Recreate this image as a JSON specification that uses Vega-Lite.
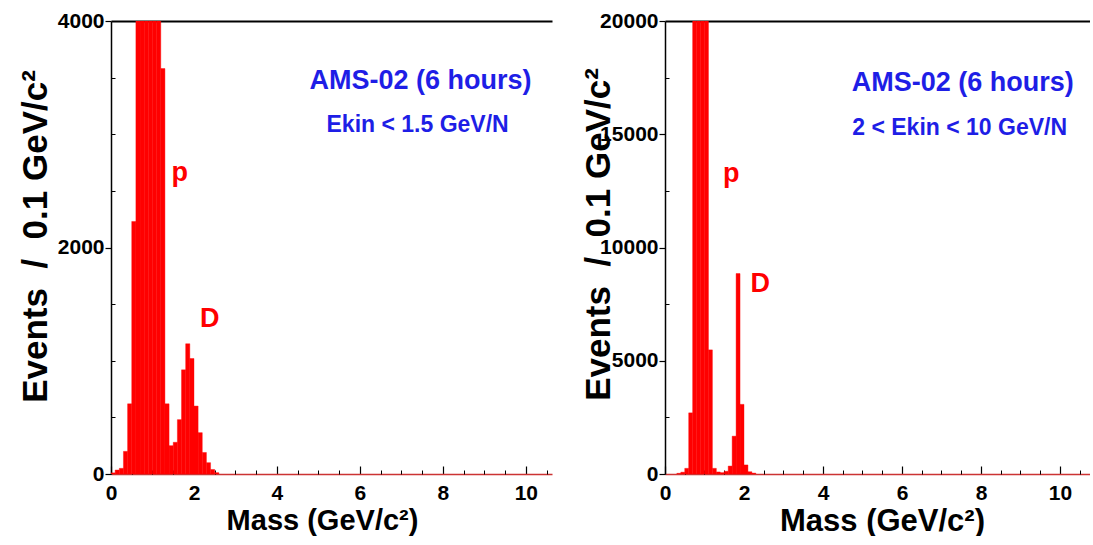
{
  "$schema": "https://vega.github.io/schema/vega-lite/v6.json",
  "background": "white",
  "padding": {"left": 18, "top": 10, "right": 0, "bottom": 0},
  "spacing": 113,
  "bounds": "flush",
  "config": {
    "view": {"stroke": null},
    "font": "Liberation Sans",
    "axis": {"labelFont": "Liberation Sans", "titleFont": "Liberation Sans", "labelFontWeight": "bold", "titleFontWeight": "bold", "labelColor": "black", "titleColor": "black", "domainColor": "black", "tickColor": "black", "grid": false, "format": "d"}
  },
  "datasets": {
    "lowE": [
      {"lo": 0.0, "hi": 0.1, "n": 10}, {"lo": 0.1, "hi": 0.2, "n": 35}, {"lo": 0.2, "hi": 0.3, "n": 50},
      {"lo": 0.3, "hi": 0.4, "n": 200}, {"lo": 0.4, "hi": 0.5, "n": 620}, {"lo": 0.5, "hi": 0.6, "n": 2230},
      {"lo": 0.6, "hi": 0.7, "n": 4900}, {"lo": 0.7, "hi": 0.8, "n": 6800}, {"lo": 0.8, "hi": 0.9, "n": 7600},
      {"lo": 0.9, "hi": 1.0, "n": 7400}, {"lo": 1.0, "hi": 1.1, "n": 6300}, {"lo": 1.1, "hi": 1.2, "n": 5000},
      {"lo": 1.2, "hi": 1.3, "n": 3580}, {"lo": 1.3, "hi": 1.4, "n": 620}, {"lo": 1.4, "hi": 1.5, "n": 250},
      {"lo": 1.5, "hi": 1.6, "n": 280}, {"lo": 1.6, "hi": 1.7, "n": 480}, {"lo": 1.7, "hi": 1.8, "n": 920},
      {"lo": 1.8, "hi": 1.9, "n": 1150}, {"lo": 1.9, "hi": 2.0, "n": 1020}, {"lo": 2.0, "hi": 2.1, "n": 600},
      {"lo": 2.1, "hi": 2.2, "n": 365}, {"lo": 2.2, "hi": 2.3, "n": 190}, {"lo": 2.3, "hi": 2.4, "n": 100},
      {"lo": 2.4, "hi": 2.5, "n": 40}, {"lo": 2.5, "hi": 2.6, "n": 12}
    ],
    "highE": [
      {"lo": 0.3, "hi": 0.4, "n": 30}, {"lo": 0.4, "hi": 0.5, "n": 80}, {"lo": 0.5, "hi": 0.6, "n": 250},
      {"lo": 0.6, "hi": 0.7, "n": 2700}, {"lo": 0.7, "hi": 0.8, "n": 26000}, {"lo": 0.8, "hi": 0.9, "n": 40000},
      {"lo": 0.9, "hi": 1.0, "n": 36000}, {"lo": 1.0, "hi": 1.1, "n": 21000}, {"lo": 1.1, "hi": 1.2, "n": 5480},
      {"lo": 1.2, "hi": 1.3, "n": 250}, {"lo": 1.3, "hi": 1.4, "n": 90}, {"lo": 1.4, "hi": 1.5, "n": 60},
      {"lo": 1.5, "hi": 1.6, "n": 120}, {"lo": 1.6, "hi": 1.7, "n": 350}, {"lo": 1.7, "hi": 1.8, "n": 1670},
      {"lo": 1.8, "hi": 1.9, "n": 8850}, {"lo": 1.9, "hi": 2.0, "n": 3075}, {"lo": 2.0, "hi": 2.1, "n": 400},
      {"lo": 2.1, "hi": 2.2, "n": 100}, {"lo": 2.2, "hi": 2.3, "n": 40}
    ]
  },
  "hconcat": [
    {
      "width": 441,
      "height": 453,
      "resolve": {"axis": {"x": "independent", "y": "independent"}},
      "layer": [
        {
          "data": {"name": "lowE"},
          "mark": {"type": "rect", "color": "#ff0000", "stroke": "#ff0000", "strokeWidth": 0.4, "clip": true},
          "encoding": {
            "x": {"field": "lo", "type": "quantitative", "scale": {"domain": [0, 10.63], "nice": false, "zero": false},
              "axis": {"orient": "bottom", "values": [0, 2, 4, 6, 8, 10], "tickSize": -8, "tickWidth": 1.2, "domainColor": "#cc3333", "domainWidth": 1.5, "labelFontSize": 21, "labelPadding": 16, "labelFlush": false, "title": "Mass (GeV/c²)", "titleFontSize": 29, "titlePadding": 3, "titleX": 211}},
            "x2": {"field": "hi"},
            "y": {"field": "n", "type": "quantitative", "scale": {"domain": [0, 4000], "nice": false},
              "axis": {"orient": "left", "values": [0, 2000, 4000], "tickSize": 6, "tickWidth": 1.2, "domainWidth": 1.5, "labelFontSize": 21, "labelPadding": 1, "labelFlush": false, "title": "Events \u00a0/\u00a0 0.1 GeV/c²", "titleFontSize": 35, "titlePadding": 4, "titleY": 215}},
            "y2": {"datum": 0}
          }
        },
        {
          "mark": {"type": "point", "opacity": 0},
          "encoding": {
            "x": {"datum": 0, "type": "quantitative", "axis": {"orient": "bottom", "values": [0.5, 1, 1.5, 2.5, 3, 3.5, 4.5, 5, 5.5, 6.5, 7, 7.5, 8.5, 9, 9.5, 10.5], "tickSize": -4, "labels": false, "domain": false, "title": null}},
            "y": {"datum": 0, "type": "quantitative", "axis": {"orient": "left", "values": [500, 1000, 1500, 2500, 3000, 3500], "tickSize": -4, "labels": false, "domain": false, "title": null}}
          }
        },
        {
          "mark": {"type": "point", "opacity": 0},
          "encoding": {
            "x": {"datum": 0, "type": "quantitative", "axis": {"orient": "top", "ticks": false, "labels": false, "domainWidth": 2, "title": null}},
            "y": {"datum": 0, "type": "quantitative", "axis": null}
          }
        },
        {
          "data": {"values": [{"label": "AMS-02 (6 hours)"}]},
          "mark": {"type": "text", "color": "#1e1ee6", "fontSize": 27, "fontWeight": "bold", "font": "Liberation Sans"},
          "encoding": {"text": {"field": "label"}, "x": {"datum": 7.46, "type": "quantitative", "axis": null}, "y": {"datum": 3470, "type": "quantitative", "axis": null}}
        },
        {
          "data": {"values": [{"label": "Ekin < 1.5 GeV/N"}]},
          "mark": {"type": "text", "color": "#1e1ee6", "fontSize": 23, "fontWeight": "bold", "font": "Liberation Sans"},
          "encoding": {"text": {"field": "label"}, "x": {"datum": 7.39, "type": "quantitative", "axis": null}, "y": {"datum": 3082, "type": "quantitative", "axis": null}}
        },
        {
          "data": {"values": [{"label": "p"}]},
          "mark": {"type": "text", "color": "#ff0000", "fontSize": 27, "fontWeight": "bold", "font": "Liberation Sans"},
          "encoding": {"text": {"field": "label"}, "x": {"datum": 1.66, "type": "quantitative", "axis": null}, "y": {"datum": 2660, "type": "quantitative", "axis": null}}
        },
        {
          "data": {"values": [{"label": "D"}]},
          "mark": {"type": "text", "color": "#ff0000", "fontSize": 27, "fontWeight": "bold", "font": "Liberation Sans"},
          "encoding": {"text": {"field": "label"}, "x": {"datum": 2.38, "type": "quantitative", "axis": null}, "y": {"datum": 1369, "type": "quantitative", "axis": null}}
        }
      ]
    },
    {
      "width": 425,
      "height": 453,
      "resolve": {"axis": {"x": "independent", "y": "independent"}},
      "layer": [
        {
          "data": {"name": "highE"},
          "mark": {"type": "rect", "color": "#ff0000", "stroke": "#ff0000", "strokeWidth": 0.4, "clip": true},
          "encoding": {
            "x": {"field": "lo", "type": "quantitative", "scale": {"domain": [0, 10.76], "nice": false, "zero": false},
              "axis": {"orient": "bottom", "values": [0, 2, 4, 6, 8, 10], "tickSize": -8, "tickWidth": 1.2, "domainColor": "#cc3333", "domainWidth": 1.5, "labelFontSize": 21, "labelPadding": 16, "labelFlush": false, "title": "Mass (GeV/c²)", "titleFontSize": 31, "titlePadding": 3, "titleX": 217}},
            "x2": {"field": "hi"},
            "y": {"field": "n", "type": "quantitative", "scale": {"domain": [0, 20000], "nice": false},
              "axis": {"orient": "left", "values": [0, 5000, 10000, 15000, 20000], "tickSize": 6, "tickWidth": 1.2, "domainWidth": 1.5, "labelFontSize": 21, "labelPadding": 1, "labelFlush": false, "title": "Events \u00a0/\u00a0 0.1 GeV/c²", "titleFontSize": 35, "titlePadding": -17, "titleY": 213}},
            "y2": {"datum": 0}
          }
        },
        {
          "mark": {"type": "point", "opacity": 0},
          "encoding": {
            "x": {"datum": 0, "type": "quantitative", "axis": {"orient": "bottom", "values": [0.5, 1, 1.5, 2.5, 3, 3.5, 4.5, 5, 5.5, 6.5, 7, 7.5, 8.5, 9, 9.5, 10.5], "tickSize": -4, "labels": false, "domain": false, "title": null}},
            "y": {"datum": 0, "type": "quantitative", "axis": {"orient": "left", "values": [2500, 7500, 12500, 17500], "tickSize": -4, "labels": false, "domain": false, "title": null}}
          }
        },
        {
          "mark": {"type": "point", "opacity": 0},
          "encoding": {
            "x": {"datum": 0, "type": "quantitative", "axis": {"orient": "top", "ticks": false, "labels": false, "domainWidth": 2, "title": null}},
            "y": {"datum": 0, "type": "quantitative", "axis": null}
          }
        },
        {
          "data": {"values": [{"label": "AMS-02 (6 hours)"}]},
          "mark": {"type": "text", "color": "#1e1ee6", "fontSize": 27, "fontWeight": "bold", "font": "Liberation Sans"},
          "encoding": {"text": {"field": "label"}, "x": {"datum": 7.54, "type": "quantitative", "axis": null}, "y": {"datum": 17275, "type": "quantitative", "axis": null}}
        },
        {
          "data": {"values": [{"label": "2 < Ekin < 10 GeV/N"}]},
          "mark": {"type": "text", "color": "#1e1ee6", "fontSize": 23, "fontWeight": "bold", "font": "Liberation Sans"},
          "encoding": {"text": {"field": "label"}, "x": {"datum": 7.46, "type": "quantitative", "axis": null}, "y": {"datum": 15297, "type": "quantitative", "axis": null}}
        },
        {
          "data": {"values": [{"label": "p"}]},
          "mark": {"type": "text", "color": "#ff0000", "fontSize": 27, "fontWeight": "bold", "font": "Liberation Sans"},
          "encoding": {"text": {"field": "label"}, "x": {"datum": 1.68, "type": "quantitative", "axis": null}, "y": {"datum": 13250, "type": "quantitative", "axis": null}}
        },
        {
          "data": {"values": [{"label": "D"}]},
          "mark": {"type": "text", "color": "#ff0000", "fontSize": 27, "fontWeight": "bold", "font": "Liberation Sans"},
          "encoding": {"text": {"field": "label"}, "x": {"datum": 2.41, "type": "quantitative", "axis": null}, "y": {"datum": 8400, "type": "quantitative", "axis": null}}
        }
      ]
    }
  ]
}
